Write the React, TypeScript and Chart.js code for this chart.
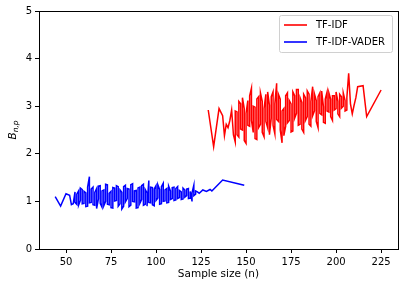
import React, { useEffect, useRef } from "react";
import { Chart, registerables } from "chart.js";

Chart.register(...registerables);

// TF-IDF-VADER (blue): sample size and B values (repeated sizes = repeated runs)
const blueX = [44, 47, 50, 52, 53, 54,
  55, 55, 56, 56, 57, 57, 58, 58, 59, 59, 60, 60, 61, 61, 62, 62, 63, 63, 64, 64, 65, 65, 66, 66, 67, 67, 68, 68, 69, 69,
  70, 70, 71, 71, 72, 72, 73, 73, 74, 74, 75, 75, 76, 76, 77, 77, 78, 78, 79, 79, 80, 80, 81, 81, 82, 82, 83, 83, 84, 84,
  85, 85, 86, 86, 87, 87, 88, 88, 89, 89, 90, 90, 91, 91, 92, 92, 93, 93, 94, 94, 95, 95, 96, 96, 97, 97, 98, 98, 99, 99,
  100, 100, 101, 101, 102, 102, 103, 103, 104, 104, 105, 105, 106, 106, 107, 107, 108, 108, 109, 109, 110, 110, 111, 111,
  112, 112, 113, 113, 114, 114, 115, 115, 116, 116, 117, 117, 118, 118, 119, 119, 120, 120, 121, 121, 122, 122,
  123, 124, 126, 128, 130, 131, 137, 149];
const blueY = [1.10, 0.90, 1.16, 1.13, 0.93, 0.95,
  1.20, 0.98, 0.94, 1.15, 1.22, 0.92, 1.02, 1.28, 1.25, 0.95, 0.96, 1.21, 1.18, 0.89, 0.90, 1.30, 1.52, 0.97, 0.98, 1.26, 1.30, 0.93, 0.92, 1.19, 1.27, 0.85, 1.05, 1.32, 1.33, 0.96,
  0.88, 1.22, 1.24, 0.91, 1.00, 1.36, 1.35, 0.94, 0.93, 1.17, 1.21, 0.87, 0.86, 1.29, 1.28, 1.01, 1.02, 1.33, 1.31, 0.90, 0.95, 1.24, 1.19, 0.84, 0.90, 1.31, 1.34, 0.99, 1.06, 1.27,
  1.26, 0.89, 0.92, 1.35, 1.37, 1.00, 0.99, 1.22, 1.23, 0.86, 0.87, 1.28, 1.30, 0.96, 1.04, 1.33, 1.36, 0.92, 0.94, 1.25, 1.18, 0.90, 1.44, 0.98, 0.97, 1.30, 1.29, 0.93, 0.91, 1.26,
  1.33, 1.02, 1.07, 1.35, 1.25, 0.94, 0.95, 1.31, 1.38, 1.00, 1.01, 1.24, 1.27, 0.97, 0.98, 1.32, 1.22, 1.04, 1.06, 1.29, 1.30, 1.02, 1.03, 1.27,
  1.31, 1.06, 1.08, 1.23, 1.20, 1.04, 1.05, 1.28, 1.24, 1.09, 1.12, 1.26, 1.27, 1.06, 1.07, 1.21, 1.00, 1.18, 1.34, 1.12, 1.15, 1.22,
  1.20, 1.17, 1.24, 1.21, 1.25, 1.22, 1.45, 1.34];

// TF-IDF (red)
const redX = [129, 132, 135, 137, 138, 139, 140, 141, 142, 143,
  144, 144, 145, 145, 146, 146, 147, 147, 148, 148, 149, 149, 150, 150, 151, 151, 152, 152, 153, 153, 154, 154,
  155, 155, 156, 156, 157, 157, 158, 158, 159, 159, 160, 160, 161, 161, 162, 162, 163, 163, 164, 164,
  165, 165, 166, 166, 167, 167, 168, 168, 169, 169, 170, 170, 171, 171, 172, 172, 173, 173, 174, 174,
  175, 175, 176, 176, 177, 177, 178, 178, 179, 179, 180, 180, 181, 181, 182, 182, 183, 183, 184, 184,
  185, 185, 186, 186, 187, 187, 188, 188, 189, 189, 190, 190, 191, 191, 192, 192, 193, 193, 194, 194,
  195, 195, 196, 196, 197, 197, 198, 198, 199, 199, 200, 200, 201, 201, 202, 202, 203, 203, 204, 204,
  205, 205, 206, 206, 207, 208, 209, 210, 211, 212, 215, 217, 225];
const redY = [2.92, 2.15, 2.95, 2.80, 2.38, 2.62, 2.55, 2.70, 2.92, 2.40,
  2.25, 2.90, 2.88, 2.40, 2.35, 3.10, 3.05, 2.52, 2.50, 3.18, 2.95, 2.28, 2.22, 2.85, 3.12, 2.60, 2.58, 3.22, 3.38, 2.70, 2.45, 3.00,
  2.98, 2.32, 2.30, 3.15, 3.20, 2.55, 2.62, 3.28, 3.10, 2.45, 2.36, 2.95, 3.25, 2.68, 2.55, 3.30, 3.02, 2.40, 2.75, 3.20,
  3.30, 2.60, 2.42, 3.05, 3.48, 2.72, 2.68, 3.25, 3.15, 2.50, 2.23, 2.90, 2.95, 2.38, 2.58, 3.22, 3.28, 2.65, 2.70, 3.12,
  3.05, 2.46, 2.48, 3.30, 3.22, 2.75, 2.85, 3.35, 3.35, 2.60, 2.62, 3.18, 3.08, 2.52, 2.45, 3.25, 3.18, 2.70, 2.78, 3.32,
  3.25, 2.62, 2.58, 3.10, 3.41, 2.80, 2.90, 3.26, 3.12, 2.68, 2.55, 3.20, 3.28, 2.85, 2.82, 3.32, 2.99, 2.66, 2.64, 3.15,
  3.30, 2.90, 2.88, 3.28, 3.15, 2.78, 2.70, 3.22, 3.22, 2.92, 2.95, 3.30, 3.10, 2.84, 2.78, 3.25, 3.20, 2.96, 3.00, 3.28,
  3.12, 2.90, 2.92, 3.18, 3.69, 3.05, 2.84, 3.02, 3.18, 3.41, 3.43, 2.78, 3.34];

const xTicks = [50, 75, 100, 125, 150, 175, 200, 225];
const yTicks = [0, 1, 2, 3, 4, 5];
const seriesNames = ["TF-IDF", "TF-IDF-VADER"];
const xTitle = "Sample size (n)";
const yTitleMain = "B";
const yTitleSub = "n,p";

const FONT = "DejaVu Sans";

const decorPlugin = {
  id: "decor",
  afterDraw(chart: any) {
    const ctx = chart.ctx as CanvasRenderingContext2D;
    const a = chart.chartArea;
    ctx.save();
    ctx.strokeStyle = "#000";
    ctx.lineWidth = 1;
    ctx.strokeRect(Math.round(a.left) + 0.5, Math.round(a.top) + 0.5, Math.round(a.right - a.left), Math.round(a.bottom - a.top));
    ctx.fillStyle = "#000";
    ctx.font = `10.5px "${FONT}"`;
    ctx.textAlign = "center";
    ctx.textBaseline = "middle";
    ctx.fillText(xTitle, (a.left + a.right) / 2, 274);
    ctx.translate(13, (a.top + a.bottom) / 2);
    ctx.rotate(-Math.PI / 2);
    ctx.font = `italic 10.5px "${FONT}"`;
    const wB = ctx.measureText(yTitleMain).width;
    ctx.font = `italic 7.5px "${FONT}"`;
    const wS = ctx.measureText(yTitleSub).width;
    const start = -(wB + wS) / 2;
    ctx.textAlign = "left";
    ctx.font = `italic 10.5px "${FONT}"`;
    ctx.fillText(yTitleMain, start, 0);
    ctx.font = `italic 7.5px "${FONT}"`;
    ctx.fillText(yTitleSub, start + wB, 3);
    ctx.restore();

    ctx.save();
    const lx = 279, ly = 15, lw = 113, lh = 37;
    ctx.fillStyle = "rgba(255,255,255,0.8)";
    ctx.strokeStyle = "#d0d0d0";
    ctx.lineWidth = 1;
    ctx.beginPath();
    (ctx as any).roundRect(lx + 0.5, ly + 0.5, lw, lh, 2);
    ctx.fill();
    ctx.stroke();
    const colors = ["#ff0000", "#0000ff"];
    ctx.font = `10px "${FONT}"`;
    ctx.textBaseline = "middle";
    ctx.textAlign = "left";
    for (let i = 0; i < 2; i++) {
      const y = 25 + i * 17;
      ctx.strokeStyle = colors[i];
      ctx.lineWidth = 1.6;
      ctx.beginPath();
      ctx.moveTo(284, y);
      ctx.lineTo(307, y);
      ctx.stroke();
      ctx.fillStyle = "#000";
      ctx.fillText(seriesNames[i], 316, y);
    }
    ctx.restore();
  },
};

export default function App() {
  const ref = useRef<HTMLCanvasElement>(null);
  useEffect(() => {
    document.body.style.margin = "0";
    const red = redX.map((x, i) => ({ x, y: redY[i] }));
    const blue = blueX.map((x, i) => ({ x, y: blueY[i] }));
    const chart = new Chart(ref.current!, {
      type: "line",
      data: {
        datasets: [
          { label: seriesNames[0], data: red, borderColor: "#ff0000", backgroundColor: "#ff0000", borderWidth: 1.5, pointRadius: 0, tension: 0 },
          { label: seriesNames[1], data: blue, borderColor: "#0000ff", backgroundColor: "#0000ff", borderWidth: 1.5, pointRadius: 0, tension: 0 },
        ],
      },
      options: {
        animation: false,
        responsive: false,
        devicePixelRatio: 1,
        layout: { padding: { top: 11, right: 9, left: 0, bottom: 0 } },
        plugins: { legend: { display: false }, tooltip: { enabled: false } },
        scales: {
          x: {
            type: "linear",
            min: 35,
            max: 234.4,
            afterBuildTicks: (s: any) => { s.ticks = xTicks.map((v) => ({ value: v })); },
            afterFit: (s: any) => { s.height = 41; },
            grid: { display: true, drawOnChartArea: false, tickLength: 4, color: "#000" },
            border: { display: true, color: "#000" },
            ticks: { color: "#000", font: { family: FONT, size: 10 }, padding: 3, maxRotation: 0, autoSkip: false },
          },
          y: {
            type: "linear",
            min: 0,
            max: 5,
            afterBuildTicks: (s: any) => { s.ticks = yTicks.map((v) => ({ value: v })); },
            afterFit: (s: any) => { s.width = 39; },
            grid: { display: true, drawOnChartArea: false, tickLength: 4, color: "#000" },
            border: { display: true, color: "#000" },
            ticks: { color: "#000", font: { family: FONT, size: 10 }, padding: 3 },
          },
        },
      },
      plugins: [decorPlugin],
    });
    return () => chart.destroy();
  }, []);
  return (
    <div style={{ position: "absolute", left: 0, top: 0, width: 407, height: 290 }}>
      <canvas ref={ref} width={407} height={290} />
    </div>
  );
}
